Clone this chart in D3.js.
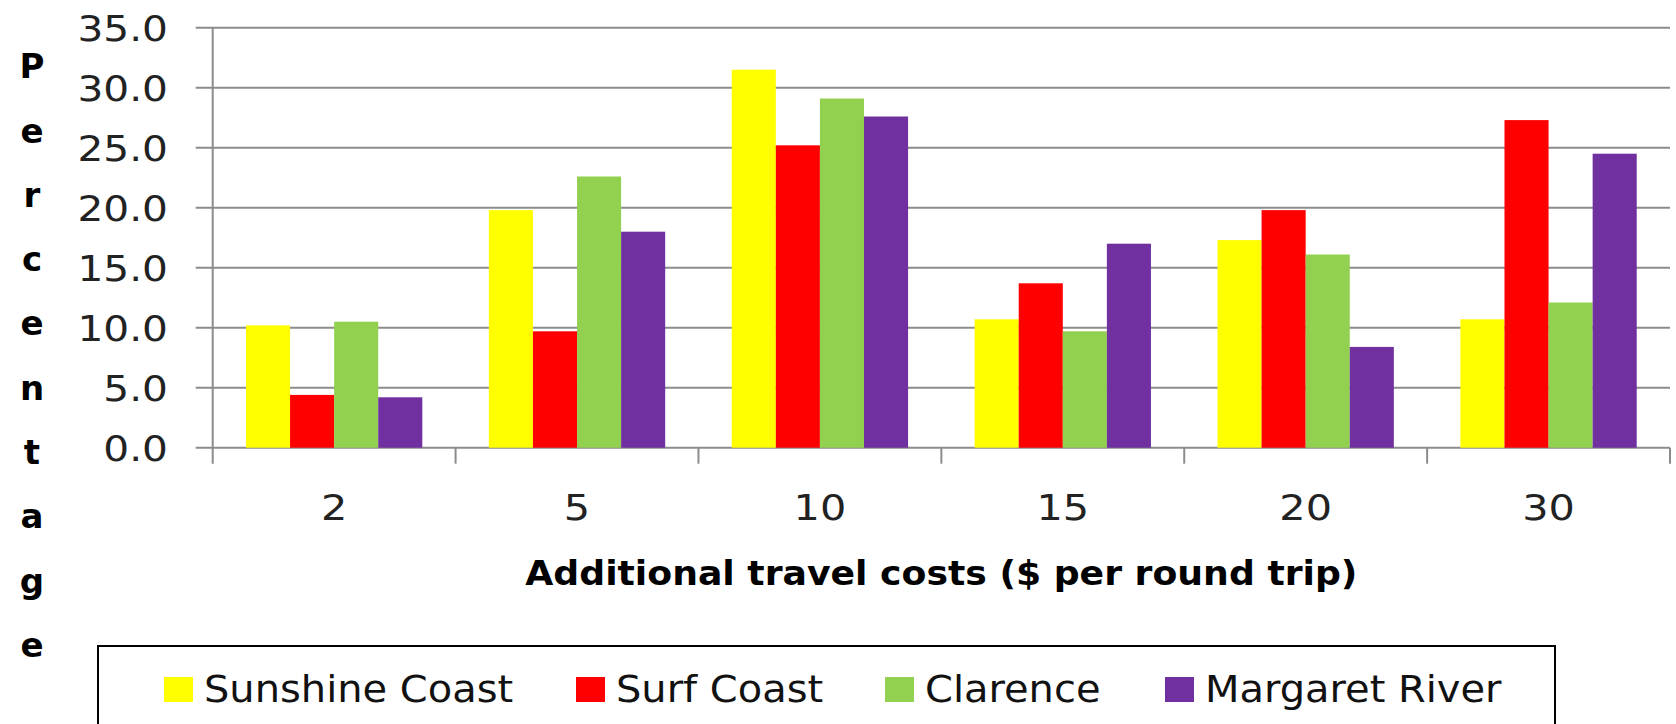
<!DOCTYPE html>
<html>
<head>
<meta charset="utf-8">
<script src="https://cdn.jsdelivr.net/npm/d3@7"></script>
<style>
  html, body { margin: 0; padding: 0; background: #fff; }
  svg { display: block; }
  text { font-family: "DejaVu Sans", sans-serif; }
</style>
</head>
<body>
<svg id="chart" width="1676" height="724"></svg>
<script>
// Share of respondents (%) by additional travel cost
const categories = ["2", "5", "10", "15", "20", "30"];
const seriesNames = ["Sunshine Coast", "Surf Coast", "Clarence", "Margaret River"];
const sunshineCoast = [10.2, 19.8, 31.5, 10.7, 17.3, 10.7];
const surfCoast = [4.4, 9.7, 25.2, 13.7, 19.8, 27.3];
const clarence = [10.5, 22.6, 29.1, 9.7, 16.1, 12.1];
const margaretRiver = [4.2, 18.0, 27.6, 17.0, 8.4, 24.5];
const yTicks = [0, 5, 10, 15, 20, 25, 30, 35];
const colors = ["#FFFF00", "#FF0000", "#92D050", "#7030A0"];

const seriesValues = [sunshineCoast, surfCoast, clarence, margaretRiver];

const svg = d3.select("#chart");
const plot = { left: 212.7, right: 1670, top: 27.7, bottom: 447.7 };

const x0 = d3.scaleBand().domain(categories).range([plot.left, plot.right]).padding(0);
const x1 = d3.scaleBand().domain(seriesNames).range([0, x0.bandwidth()])
  .paddingInner(0).paddingOuter(0.755);
const y = d3.scaleLinear().domain([0, 35]).range([plot.bottom, plot.top]);
const color = d3.scaleOrdinal().domain(seriesNames).range(colors);

const gridColor = "#8c8c8c";

// horizontally widened text helper
const place = (x, yy, sx) => `translate(${x},${yy}) scale(${sx},1)`;

// horizontal gridlines with short outward ticks on the left
svg.append("g").selectAll("line").data(yTicks).join("line")
  .attr("x1", plot.left - 17).attr("x2", plot.right)
  .attr("y1", d => y(d)).attr("y2", d => y(d))
  .attr("stroke", gridColor).attr("stroke-width", 2);

// vertical value axis line
svg.append("line")
  .attr("x1", plot.left).attr("x2", plot.left)
  .attr("y1", plot.top).attr("y2", plot.bottom + 16)
  .attr("stroke", gridColor).attr("stroke-width", 2);

// category boundary ticks
const boundaries = categories.map(c => x0(c)).concat([plot.right]);
svg.append("g").selectAll("line").data(boundaries.slice(1)).join("line")
  .attr("x1", d => d).attr("x2", d => d)
  .attr("y1", plot.bottom).attr("y2", plot.bottom + 16)
  .attr("stroke", gridColor).attr("stroke-width", 2);

// bars
const rows = categories.map((c, i) => ({ cat: c, vals: seriesNames.map((s, j) => ({ s, v: seriesValues[j][i] })) }));
svg.append("g").selectAll("g").data(rows).join("g")
  .attr("transform", d => `translate(${x0(d.cat)},0)`)
  .selectAll("rect").data(d => d.vals).join("rect")
  .attr("x", d => x1(d.s))
  .attr("width", x1.bandwidth())
  .attr("y", d => y(d.v))
  .attr("height", d => y(0) - y(d.v))
  .attr("fill", d => color(d.s));

// y tick labels
svg.append("g").selectAll("text").data(yTicks).join("text")
  .attr("transform", d => place(168, y(d), 1.13))
  .attr("dy", "0.36em")
  .attr("text-anchor", "end")
  .attr("font-size", 36)
  .attr("fill", "#222")
  .text(d => d.toFixed(1));

// x tick labels
svg.append("g").selectAll("text").data(categories).join("text")
  .attr("transform", d => place(x0(d) + x0.bandwidth() / 2, 507, 1.15))
  .attr("dy", "0.36em")
  .attr("text-anchor", "middle")
  .attr("font-size", 36)
  .attr("fill", "#222")
  .text(d => d);

// x axis title
svg.append("text")
  .attr("transform", place((plot.left + plot.right) / 2, 573, 1.065))
  .attr("dy", "0.36em")
  .attr("text-anchor", "middle")
  .attr("font-size", 34)
  .attr("font-weight", "bold")
  .attr("fill", "#000")
  .text("Additional travel costs ($ per round trip)");

// y axis title, one letter per line
const yTitle = "Percentage".split("");
svg.append("g").selectAll("text").data(yTitle).join("text")
  .attr("x", 32).attr("y", (d, i) => 66 + i * 64.3)
  .attr("dy", "0.36em")
  .attr("text-anchor", "middle")
  .attr("font-size", 34)
  .attr("font-weight", "bold")
  .attr("fill", "#000")
  .text(d => d);

// legend
const legend = svg.append("g");
legend.append("rect")
  .attr("x", 98).attr("y", 646).attr("width", 1457).attr("height", 100)
  .attr("fill", "#fff").attr("stroke", "#000").attr("stroke-width", 2);
const legendX = [164, 576, 885, 1165];
const items = legend.selectAll("g.item").data(seriesNames).join("g")
  .attr("class", "item")
  .attr("transform", (d, i) => `translate(${legendX[i]},0)`);
items.append("rect")
  .attr("x", 0).attr("y", 677).attr("width", 29).attr("height", 25)
  .attr("fill", d => color(d));
items.append("text")
  .attr("transform", place(40, 702, 1.08))
  .attr("font-size", 37)
  .attr("fill", "#111")
  .text(d => d);
</script>
</body>
</html>
